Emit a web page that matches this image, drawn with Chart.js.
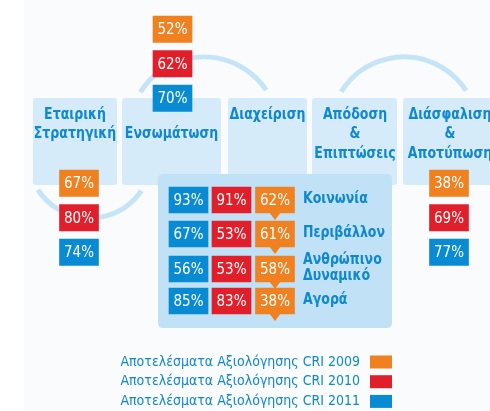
<!DOCTYPE html>
<html>
<head>
<meta charset="utf-8">
<script src="https://cdn.jsdelivr.net/npm/chart.js@4"></script>
<style>
  html, body { margin: 0; padding: 0; background: #ffffff; overflow: hidden; }
  canvas { display: block; }
</style>
</head>
<body>
<canvas id="myChart" width="490" height="411"></canvas>
<script>
"use strict";

// data
var years = ["2009", "2010", "2011"];
var yearColors = ["#ef8121", "#e11f2b", "#098bd3"];
var pillars = [
  ["Εταιρική", "Στρατηγική"],
  ["Ενσωμάτωση"],
  ["Διαχείριση"],
  ["Απόδοση", "&", "Επιπτώσεις"],
  ["Διάσφαλιση", "&", "Αποτύπωση"],
];
var pillar2009 = [67, 52, null, null, 38];
var pillar2010 = [80, 62, null, null, 69];
var pillar2011 = [74, 70, null, null, 77];
var areas = [["Κοινωνία"], ["Περιβάλλον"], ["Ανθρώπινο", "Δυναμικό"], ["Αγορά"]];
var area2009 = [62, 61, 58, 38];
var area2010 = [91, 53, 53, 83];
var area2011 = [93, 67, 56, 85];

var pillarByYear = [pillar2009, pillar2010, pillar2011];
var areaByYear = [area2009, area2010, area2011];

// layout (page units, x 0..490, y 0..411)
var colLeft = [33, 122, 228, 312, 403];
var colRight = [117, 221, 307, 397, 496];
var colTextX = [75, 171.5, 267.5, 355, 450];
var colTitleRow = [0, 1, 0, 0, 0];
var boxX = [79, 172.5, null, null, 449];
var boxStart = [170, 16, null, null, 170];
var boxPitch = 34.5;
var boxH = 26.5;
var areaTop = [187, 221, 256, 288];
var areaBoxX = [275, 231.5, 188.5]; // 2009, 2010, 2011
var areaH = 26;
var panel = { l: 158, t: 174, r: 392, b: 328 };
var arcs = [
  { cx: 90, cy: 156, r: 62, a0: 34, a1: 147 },
  { cx: 204, cy: 132, r: 75, a0: -148, a1: -34 },
  { cx: 404, cy: 131, r: 74, a0: -148, a1: -33 },
];

var BLUE_TEXT = "#0f88cd";
var TITLE_FONT = "bold 15px 'DejaVu Sans Condensed', 'DejaVu Sans'";
var VALUE_FONT = "15px 'DejaVu Sans Condensed', 'DejaVu Sans'";
var LEGEND_FONT = "14px 'DejaVu Sans Condensed', 'DejaVu Sans'";
var SQUEEZE = 0.93;

function buildDatasets() {
  var sets = [];
  for (var yi = 0; yi < years.length; yi++) {
    var pts = [];
    for (var c = 0; c < pillars.length; c++) {
      var v = pillarByYear[yi][c];
      if (v === null) continue;
      var top = boxStart[c] + boxPitch * yi;
      pts.push({ x: boxX[c], y: [top, top + boxH], v: v, kind: "pillar" });
    }
    for (var a = 0; a < areas.length; a++) {
      pts.push({ x: areaBoxX[yi], y: [areaTop[a], areaTop[a] + areaH], v: areaByYear[yi][a], kind: "area" });
    }
    sets.push({
      label: "Αποτελέσματα Αξιολόγησης CRI " + years[yi],
      data: pts,
      backgroundColor: yearColors[yi],
      borderWidth: 0,
      barThickness: 39,
      grouped: false,
    });
  }
  return sets;
}

function roundRect(ctx, x, y, w, h, r) {
  ctx.beginPath();
  ctx.moveTo(x + r, y);
  ctx.lineTo(x + w - r, y);
  ctx.quadraticCurveTo(x + w, y, x + w, y + r);
  ctx.lineTo(x + w, y + h - r);
  ctx.quadraticCurveTo(x + w, y + h, x + w - r, y + h);
  ctx.lineTo(x + r, y + h);
  ctx.quadraticCurveTo(x, y + h, x, y + h - r);
  ctx.lineTo(x, y + r);
  ctx.quadraticCurveTo(x, y, x + r, y);
  ctx.closePath();
}

// bold titles, slightly narrowed to keep the original widths
function squeezedText(ctx, text, x, y) {
  ctx.save();
  ctx.translate(x, y);
  ctx.scale(SQUEEZE, 1);
  ctx.fillText(text, 0, 0);
  ctx.restore();
}

var decor = {
  id: "decor",
  beforeDatasetsDraw: function (chart) {
    var ctx = chart.ctx;
    var sx = chart.scales.x, sy = chart.scales.y;
    var X = function (v) { return sx.getPixelForValue(v); };
    var Y = function (v) { return sy.getPixelForValue(v); };
    ctx.save();
    ctx.fillStyle = "#ffffff";
    ctx.fillRect(0, 0, chart.width, chart.height);
    ctx.fillStyle = "#fafbfc";
    ctx.fillRect(X(24), 0, chart.width, chart.height);

    // arcs
    ctx.strokeStyle = "#c6e4f7";
    ctx.lineWidth = 5;
    arcs.forEach(function (a) {
      ctx.beginPath();
      ctx.arc(X(a.cx), Y(a.cy), a.r, a.a0 * Math.PI / 180, a.a1 * Math.PI / 180);
      ctx.stroke();
    });

    // pillar columns
    for (var c = 0; c < pillars.length; c++) {
      ctx.fillStyle = "#d5ebfa";
      roundRect(ctx, X(colLeft[c]), Y(98), X(colRight[c]) - X(colLeft[c]), Y(185) - Y(98), 3);
      ctx.fill();
      ctx.fillStyle = BLUE_TEXT;
      ctx.font = TITLE_FONT;
      ctx.textAlign = "center";
      ctx.textBaseline = "middle";
      for (var k = 0; k < pillars[c].length; k++) {
        squeezedText(ctx, pillars[c][k], X(colTextX[c]), Y(115 + 19.5 * (k + colTitleRow[c])));
      }
    }

    // detail panel
    ctx.fillStyle = "#c1e2f6";
    roundRect(ctx, X(panel.l), Y(panel.t), X(panel.r) - X(panel.l), Y(panel.b) - Y(panel.t), 5);
    ctx.fill();
    ctx.restore();
  },
  afterDatasetsDraw: function (chart) {
    var ctx = chart.ctx;
    var sx = chart.scales.x, sy = chart.scales.y;
    var X = function (v) { return sx.getPixelForValue(v); };
    var Y = function (v) { return sy.getPixelForValue(v); };
    ctx.save();

    // pointers under 2009 detail boxes
    var meta0 = chart.getDatasetMeta(0);
    ctx.fillStyle = yearColors[0];
    meta0.data.forEach(function (el, j) {
      if (chart.data.datasets[0].data[j].kind !== "area") return;
      var bottom = Math.max(el.y, el.base);
      ctx.beginPath();
      ctx.moveTo(el.x - 6, bottom - 1);
      ctx.lineTo(el.x + 6, bottom - 1);
      ctx.lineTo(el.x, bottom + 7);
      ctx.closePath();
      ctx.fill();
    });

    // value labels
    ctx.fillStyle = "#ffffff";
    ctx.font = VALUE_FONT;
    ctx.textAlign = "center";
    ctx.textBaseline = "middle";
    chart.data.datasets.forEach(function (ds, i) {
      chart.getDatasetMeta(i).data.forEach(function (el, j) {
        ctx.fillText(ds.data[j].v + "%", el.x, (el.y + el.base) / 2 + 1);
      });
    });

    // area labels
    ctx.fillStyle = BLUE_TEXT;
    ctx.font = TITLE_FONT;
    ctx.textAlign = "left";
    for (var a = 0; a < areas.length; a++) {
      var lines = areas[a];
      var mid = areaTop[a] + areaH / 2;
      for (var k = 0; k < lines.length; k++) {
        var off = (k - (lines.length - 1) / 2) * 16.5;
        squeezedText(ctx, lines[k], X(303), Y(mid + off - 1));
      }
    }

    // legend
    ctx.font = LEGEND_FONT;
    ctx.textAlign = "right";
    for (var yi = 0; yi < years.length; yi++) {
      var cy = 362 + 19.7 * yi;
      ctx.fillStyle = BLUE_TEXT;
      ctx.fillText(chart.data.datasets[yi].label, X(360), Y(cy));
      ctx.fillStyle = yearColors[yi];
      ctx.fillRect(X(370), Y(cy - 6.5), 22, 13);
    }
    ctx.restore();
  },
};

function draw() {
  new Chart(document.getElementById("myChart"), {
    type: "bar",
    data: { datasets: buildDatasets() },
    options: {
      responsive: false,
      animation: false,
      layout: { padding: 0 },
      plugins: { legend: { display: false }, tooltip: { enabled: false } },
      scales: {
        x: { type: "linear", min: 0, max: 490, offset: false, display: false },
        y: { type: "linear", min: 0, max: 411, reverse: true, offset: false, display: false },
      },
    },
    plugins: [decor],
  });
}

document.addEventListener("DOMContentLoaded", draw);
</script>
</body>
</html>
